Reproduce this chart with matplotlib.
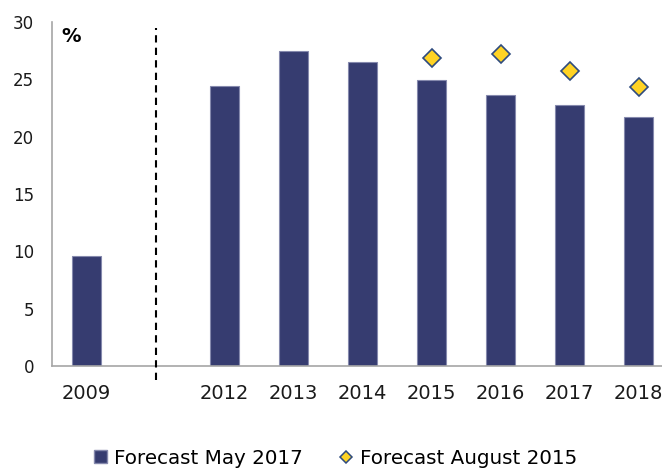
import matplotlib
matplotlib.use("Agg")
import matplotlib.pyplot as plt
from matplotlib.lines import Line2D
from matplotlib.patches import Patch

categories = ["2009", "", "2012", "2013", "2014", "2015", "2016", "2017", "2018"]
may2017 = [9.6, None, 24.4, 27.5, 26.5, 24.9, 23.6, 22.8, 21.7]
aug2015 = [None, None, None, None, None, 26.9, 27.2, 25.7, 24.3]
yticks = [0, 5, 10, 15, 20, 25, 30]

bar_color = "#363C70"
bar_edge = "#8589AD"
dia_face = "#FFD324"
dia_edge = "#2E4B7E"

plt.rcParams["font.family"] = ["DejaVu Sans"]

fig = plt.figure(figsize=(6.62, 4.68), dpi=100)
ax = fig.add_axes([52/662, 102/468, 621/662, 344/468])

x = list(range(len(categories)))
bx = [i for i, v in zip(x, may2017) if v is not None]
bv = [v for v in may2017 if v is not None]
ax.bar(bx, bv, width=0.41, color=bar_color, edgecolor=bar_edge, linewidth=0.8, zorder=2)

dx = [i for i, v in zip(x, aug2015) if v is not None]
dv = [v for v in aug2015 if v is not None]
ax.plot(dx, dv, linestyle="none", marker="D", markersize=9, markerfacecolor=dia_face,
        markeredgecolor=dia_edge, markeredgewidth=1.2, zorder=3)

ax.set_xlim(-0.5, len(categories) - 0.5)
ax.set_ylim(0, 30)
ax.set_yticks(yticks)
ax.set_xticks(x)
ax.set_xticklabels(categories)
ax.tick_params(axis="both", length=0, colors="#1a1a1a")
ax.tick_params(axis="y", pad=13, labelsize=12)
ax.tick_params(axis="x", pad=13, labelsize=14)

for s in ["top", "right"]:
    ax.spines[s].set_visible(False)
ax.spines["left"].set_color("#A6A6A6")
ax.spines["bottom"].set_color("#A6A6A6")
ax.spines["left"].set_linewidth(1.2)
ax.spines["bottom"].set_linewidth(1.2)

ax.plot([1, 1], [-1.2, 29.5], color="black", linestyle=(0, (3.5, 2.5)), linewidth=1.5,
        clip_on=False, zorder=4)

ax.text(0.015, 0.985, "%", transform=ax.transAxes, fontsize=14, fontweight="bold",
        ha="left", va="top")

handles = [Patch(facecolor=bar_color, edgecolor=bar_edge, label="Forecast May 2017"),
           Line2D([], [], linestyle="none", marker="D", markersize=6, markerfacecolor=dia_face,
                  markeredgecolor=dia_edge, markeredgewidth=1.1, label="Forecast August 2015")]
fig.legend(handles=handles, loc="center", bbox_to_anchor=(0.507, 1 - 458/468), ncol=2,
           frameon=False, fontsize=14.3, handlelength=0.65, handleheight=0.65,
           handletextpad=0.35, columnspacing=1.85)

fig.savefig("out.png", dpi=100)
